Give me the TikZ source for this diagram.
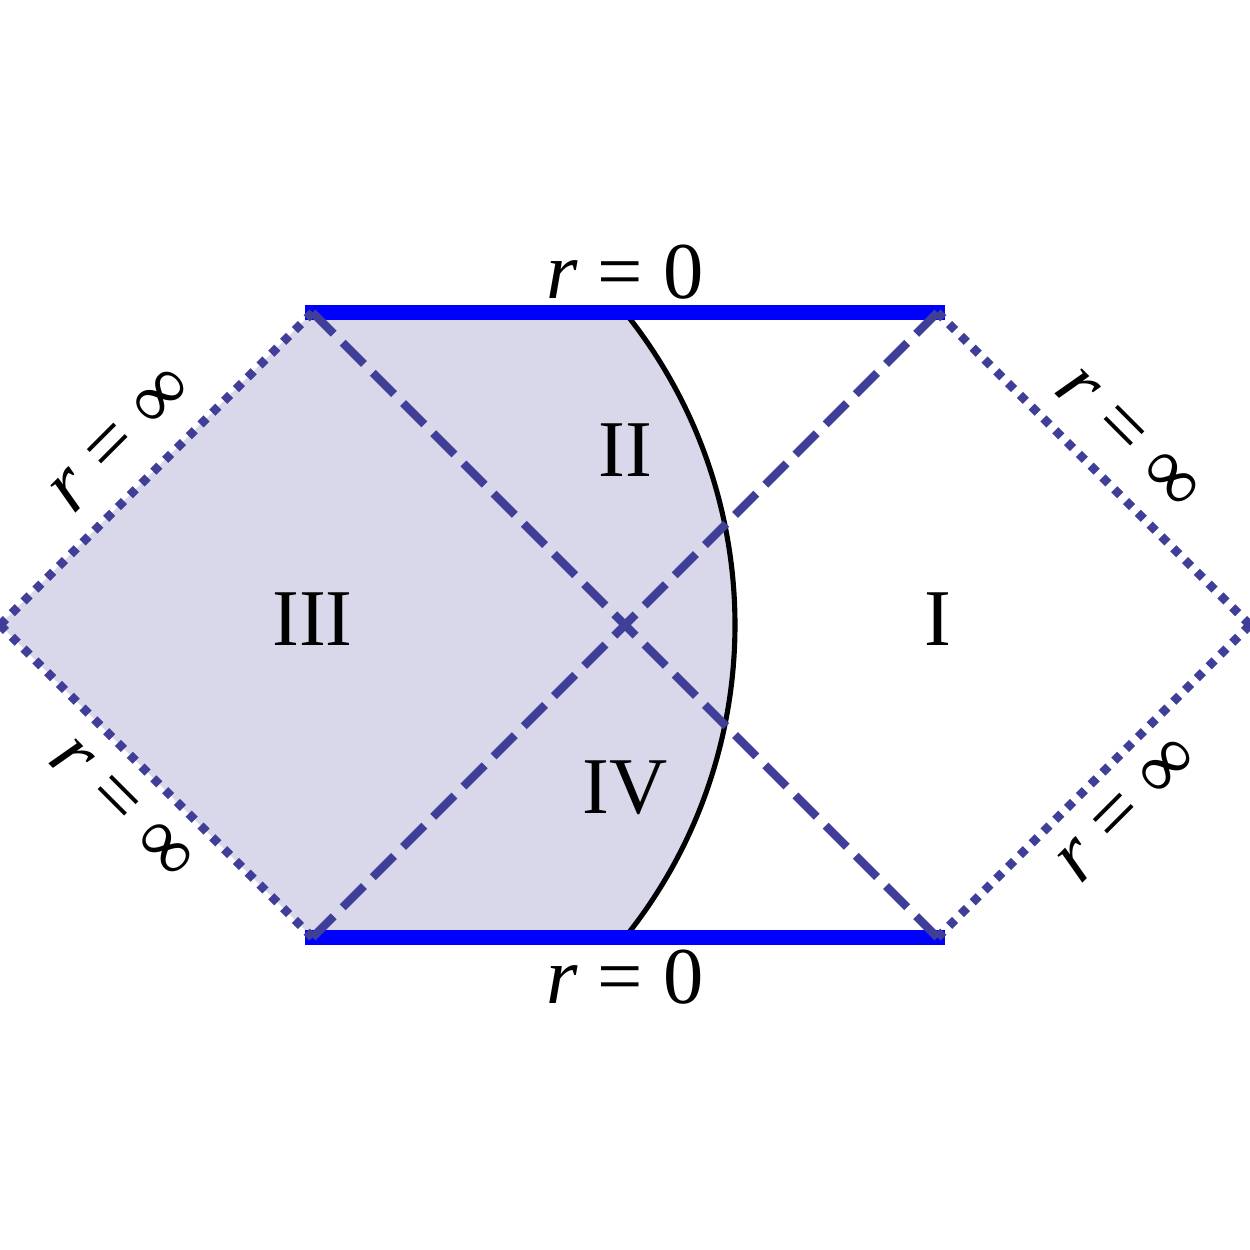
\documentclass[tikz,border=0pt]{standalone}
\usepackage{fontspec}
\setmainfont{Liberation Serif}[ItalicFont={Liberation Serif Italic}]
\definecolor{regionfill}{HTML}{D9D8EB}
\definecolor{hcol}{HTML}{3F3F99}
\begin{document}
\begin{tikzpicture}[x=3cm,y=3cm,
  font=\fontsize{22}{26}\selectfont,
  singular/.style={draw=blue, line width=4pt, line cap=rect},
  horizon/.style={draw=hcol, line width=2.3pt, dash pattern=on 8.2pt off 3.46pt},
  scri/.style={draw=hcol, line width=2.4pt, dash pattern=on 2.3pt off 2.257pt},
  wall/.style={draw=black, line width=1.4pt},
  lbl/.style={inner sep=0pt}]
\useasboundingbox (0,0) rectangle (4,4);
% corners
\coordinate (L) at (0,2);
\coordinate (R) at (4,2);
\coordinate (TL) at (1,3);
\coordinate (TR) at (3,3);
\coordinate (BL) at (1,1);
\coordinate (BR) at (3,1);
\coordinate (TM) at (2,3);
\coordinate (BM) at (2,1);
% shaded region
\fill[regionfill] (L) -- (TL) -- (TM) arc[start angle=38.79, end angle=-38.79, radius=1.5963] -- (BL) -- cycle;
% wall curve
\draw[wall] (TM) arc[start angle=38.79, end angle=-38.79, radius=1.5963];
% singularities
\draw[singular] (TL) -- (TR);
\draw[singular] (BL) -- (BR);
% null infinity
\draw[scri] (L) -- (TL);
\draw[scri] (L) -- (BL);
\draw[scri] (R) -- (TR);
\draw[scri] (R) -- (BR);
% horizons
\draw[horizon] (TL) -- (BR);
\draw[horizon] (BL) -- (TR);
% labels
\node[lbl] (top) at (2,3.13) {\textit{r} = 0};
\node[lbl] (bot) at (2,0.874) {\textit{r} = 0};
\node[lbl] (rI) at (3,2.019) {I};
\node[lbl] (rII) at (2,2.56) {II};
\node[lbl] (rIII) at (1,2.019) {III};
\node[lbl] (rIV) at (2,1.478) {IV};
\node[lbl, rotate=45] (ul) at (0.39,2.592) {\textit{r} = ∞};
\node[lbl, rotate=-45] (ur) at (3.61,2.592) {\textit{r} = ∞};
\node[lbl, rotate=-45] (ll) at (0.39,1.408) {\textit{r} = ∞};
\node[lbl, rotate=45] (lr) at (3.61,1.408) {\textit{r} = ∞};
\end{tikzpicture}
\end{document}
